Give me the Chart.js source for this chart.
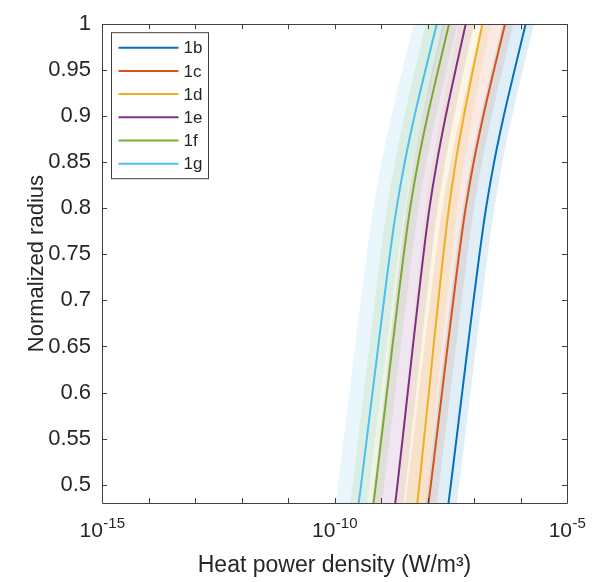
<!DOCTYPE html>
<html><head><meta charset="utf-8">
<script src="https://cdn.jsdelivr.net/npm/chart.js@4.4.1/dist/chart.umd.min.js"></script>
<style>html,body{margin:0;padding:0;background:#fff;}#wrap{width:595px;height:582px;position:relative;}canvas{display:block;}</style>
</head><body><div id="wrap"><canvas id="c" width="595" height="582"></canvas></div>
<script>
// ---------- data ----------
const radius = [0.48, 0.5, 0.55, 0.6, 0.65, 0.7, 0.75, 0.8, 0.85, 0.9, 0.95, 1.0];
const seriesNames = ['1b', '1c', '1d', '1e', '1f', '1g'];
const seriesColors = ['#0072BD', '#D95319', '#EDB120', '#7E2F8E', '#77AC30', '#4DBEEE'];

// heat power density (W/m^3): central curve, lower and upper edge of the shaded band
const q1b  = [2.83e-8, 3.18e-8, 4.21e-8, 5.56e-8, 7.36e-8, 9.76e-8, 1.31e-7, 1.81e-7, 2.70e-7, 4.35e-7, 7.43e-7, 1.29e-6];
const lo1b = [8.95e-9, 1.01e-8, 1.33e-8, 1.76e-8, 2.33e-8, 3.09e-8, 4.14e-8, 5.72e-8, 8.54e-8, 1.38e-7, 2.35e-7, 4.08e-7];
const hi1b = [4.28e-8, 4.81e-8, 6.37e-8, 8.42e-8, 1.11e-7, 1.48e-7, 1.98e-7, 2.74e-7, 4.09e-7, 6.58e-7, 1.12e-6, 1.95e-6];

const q1c  = [1.05e-8, 1.18e-8, 1.56e-8, 2.05e-8, 2.71e-8, 3.59e-8, 4.78e-8, 6.60e-8, 9.82e-8, 1.58e-7, 2.68e-7, 4.64e-7];
const lo1c = [3.32e-9, 3.73e-9, 4.93e-9, 6.48e-9, 8.57e-9, 1.14e-8, 1.51e-8, 2.09e-8, 3.11e-8, 5.00e-8, 8.47e-8, 1.47e-7];
const hi1c = [1.59e-8, 1.79e-8, 2.36e-8, 3.10e-8, 4.10e-8, 5.43e-8, 7.24e-8, 9.99e-8, 1.49e-7, 2.39e-7, 4.06e-7, 7.02e-7];

const q1d  = [6.03e-9, 6.67e-9, 8.43e-9, 1.07e-8, 1.35e-8, 1.71e-8, 2.19e-8, 2.88e-8, 4.03e-8, 6.03e-8, 9.46e-8, 1.51e-7];
const lo1d = [1.91e-9, 2.11e-9, 2.67e-9, 3.38e-9, 4.27e-9, 5.41e-9, 6.93e-9, 9.11e-9, 1.27e-8, 1.91e-8, 2.99e-8, 4.77e-8];
const hi1d = [9.13e-9, 1.01e-8, 1.28e-8, 1.62e-8, 2.04e-8, 2.59e-8, 3.32e-8, 4.36e-8, 6.10e-8, 9.13e-8, 1.43e-7, 2.29e-7];

const q1e  = [2.03e-9, 2.26e-9, 2.92e-9, 3.76e-9, 4.85e-9, 6.28e-9, 8.19e-9, 1.10e-8, 1.59e-8, 2.46e-8, 4.00e-8, 6.63e-8];
const lo1e = [6.42e-10, 7.15e-10, 9.23e-10, 1.19e-9, 1.53e-9, 1.99e-9, 2.59e-9, 3.48e-9, 5.03e-9, 7.78e-9, 1.26e-8, 2.10e-8];
const hi1e = [3.07e-9, 3.42e-9, 4.42e-9, 5.69e-9, 7.34e-9, 9.51e-9, 1.24e-8, 1.66e-8, 2.41e-8, 3.72e-8, 6.05e-8, 1.00e-7];

const q1f  = [6.90e-10, 7.74e-10, 1.02e-9, 1.34e-9, 1.76e-9, 2.32e-9, 3.08e-9, 4.23e-9, 6.26e-9, 1.00e-8, 1.69e-8, 2.90e-8];
const lo1f = [2.18e-10, 2.45e-10, 3.23e-10, 4.24e-10, 5.57e-10, 7.34e-10, 9.74e-10, 1.34e-9, 1.98e-9, 3.16e-9, 5.34e-9, 9.17e-9];
const hi1f = [1.04e-9, 1.17e-9, 1.54e-9, 2.03e-9, 2.66e-9, 3.51e-9, 4.66e-9, 6.40e-9, 9.48e-9, 1.51e-8, 2.56e-8, 4.39e-8];

const q1g  = [3.31e-10, 3.74e-10, 4.95e-10, 6.57e-10, 8.71e-10, 1.16e-9, 1.55e-9, 2.16e-9, 3.24e-9, 5.24e-9, 9.01e-9, 1.58e-8];
const lo1g = [1.05e-10, 1.18e-10, 1.57e-10, 2.08e-10, 2.75e-10, 3.67e-10, 4.90e-10, 6.83e-10, 1.02e-9, 1.66e-9, 2.85e-9, 5.00e-9];
const hi1g = [5.01e-10, 5.66e-10, 7.49e-10, 9.94e-10, 1.32e-9, 1.76e-9, 2.35e-9, 3.27e-9, 4.90e-9, 7.93e-9, 1.36e-8, 2.39e-8];

const yTicks = [0.5, 0.55, 0.6, 0.65, 0.7, 0.75, 0.8, 0.85, 0.9, 0.95, 1];
const yTickLabels = ['0.5', '0.55', '0.6', '0.65', '0.7', '0.75', '0.8', '0.85', '0.9', '0.95', '1'];
const xTickMarks = [1e-15, 1e-14, 1e-13, 1e-12, 1e-11, 1e-10, 1e-9, 1e-8, 1e-7, 1e-6, 1e-5];
const xLabelValues = [1e-15, 1e-10, 1e-5];
const xTickBase = '10';
const xTickExponents = ['-15', '-10', '-5'];
const xTitle = 'Heat power density (W/m\u00B3)';
const yTitle = 'Normalized radius';

// ---------- chart ----------
const centers = [q1b, q1c, q1d, q1e, q1f, q1g];
const lows = [lo1b, lo1c, lo1d, lo1e, lo1f, lo1g];
const highs = [hi1b, hi1c, hi1d, hi1e, hi1f, hi1g];

const FONT = '"Liberation Sans", Arial, Helvetica, sans-serif';
const TXT = '#262626';
const AX = '#404040';

function rgba(hex, a) {
  const n = parseInt(hex.slice(1), 16);
  return `rgba(${(n >> 16) & 255},${(n >> 8) & 255},${n & 255},${a})`;
}
function pts(vals) { return radius.map((r, k) => ({x: vals[k], y: r})); }

const datasets = [];
seriesNames.forEach((name, i) => {
  datasets.push({label: name + ' lower', data: pts(lows[i]), borderWidth: 0, borderColor: 'rgba(0,0,0,0)',
    pointRadius: 0, fill: false, cubicInterpolationMode: 'monotone'});
  datasets.push({label: name + ' upper', data: pts(highs[i]), borderWidth: 0, borderColor: 'rgba(0,0,0,0)',
    pointRadius: 0, fill: '-1', backgroundColor: rgba(seriesColors[i], 0.12), cubicInterpolationMode: 'monotone'});
});
seriesNames.forEach((name, i) => {
  datasets.push({label: name, isMain: true, data: pts(centers[i]), borderColor: seriesColors[i],
    backgroundColor: seriesColors[i], borderWidth: 2, pointRadius: 0, fill: false, cubicInterpolationMode: 'monotone'});
});

const boxPlugin = {
  id: 'matlabBox',
  afterDatasetsDraw(chart) {
    const {ctx, chartArea: a, scales: {x, y}} = chart;
    const L = 5;
    ctx.save();
    ctx.strokeStyle = AX;
    ctx.lineWidth = 1;
    ctx.beginPath();
    x.ticks.forEach(t => {
      const px = Math.round(x.getPixelForValue(t.value)) + 0.5;
      ctx.moveTo(px, a.bottom); ctx.lineTo(px, a.bottom - L);
      ctx.moveTo(px, a.top); ctx.lineTo(px, a.top + L);
    });
    y.ticks.forEach(t => {
      const py = Math.round(y.getPixelForValue(t.value)) + 0.5;
      ctx.moveTo(a.left, py); ctx.lineTo(a.left + L, py);
      ctx.moveTo(a.right, py); ctx.lineTo(a.right - L, py);
    });
    ctx.stroke();
    ctx.beginPath();
    ctx.rect(Math.round(a.left) + 0.5, Math.round(a.top) + 0.5, Math.round(a.right - a.left), Math.round(a.bottom - a.top));
    ctx.stroke();
    ctx.restore();
  }
};

// x tick labels as 10 with a raised exponent, placed through the x scale
const powerLabelPlugin = {
  id: 'powerLabels',
  afterDraw(chart) {
    const {ctx, scales: {x}} = chart;
    ctx.save();
    ctx.fillStyle = TXT;
    ctx.textBaseline = 'alphabetic';
    ctx.textAlign = 'left';
    xLabelValues.forEach((v, i) => {
      const px = x.getPixelForValue(v);
      ctx.font = '21px ' + FONT;
      const wb = ctx.measureText(xTickBase).width;
      ctx.font = '15px ' + FONT;
      const we = ctx.measureText(xTickExponents[i]).width;
      const x0 = px - (wb + we) / 2;
      ctx.font = '21px ' + FONT;
      ctx.fillText(xTickBase, x0, x.top + 34);
      ctx.font = '15px ' + FONT;
      ctx.fillText(xTickExponents[i], x0 + wb + 0.5, x.top + 25);
    });
    ctx.restore();
  }
};

const legendPlugin = {
  id: 'matlabLegend',
  afterDraw(chart) {
    const {ctx, chartArea: a} = chart;
    const items = chart.data.datasets.filter(d => d.isMain);
    const bx = a.left + 9.5, by = a.top + 8.5, bw = 97, bh = 146;
    ctx.save();
    ctx.fillStyle = '#fff';
    ctx.fillRect(bx, by, bw, bh);
    ctx.strokeStyle = AX;
    ctx.lineWidth = 1;
    ctx.strokeRect(bx, by, bw, bh);
    ctx.font = '17px ' + FONT;
    ctx.textBaseline = 'middle';
    ctx.textAlign = 'left';
    items.forEach((d, i) => {
      const yy = by + 15 + i * 23.2;
      ctx.strokeStyle = d.borderColor;
      ctx.lineWidth = 2;
      ctx.beginPath();
      ctx.moveTo(bx + 7, yy); ctx.lineTo(bx + 67, yy);
      ctx.stroke();
      ctx.fillStyle = TXT;
      ctx.fillText(d.label, bx + 72, yy + 1);
    });
    ctx.restore();
  }
};

new Chart(document.getElementById('c'), {
  type: 'line',
  data: {datasets},
  plugins: [boxPlugin, powerLabelPlugin, legendPlugin],
  options: {
    responsive: false,
    animation: false,
    indexAxis: 'y',
    layout: {padding: {top: 18, right: 28, left: 0, bottom: 0}},
    plugins: {
      legend: {display: false},
      tooltip: {enabled: false},
      filler: {drawTime: 'beforeDatasetsDraw'}
    },
    scales: {
      x: {
        type: 'logarithmic', position: 'bottom', min: 1e-15, max: 1e-5,
        afterBuildTicks(s) { s.ticks = xTickMarks.map(v => ({value: v})); },
        afterFit(s) { s.height = 79; },
        grid: {display: false, drawTicks: false},
        border: {display: false},
        ticks: {display: false, autoSkip: false, maxRotation: 0},
        title: {display: true, text: xTitle, color: TXT, font: {family: FONT, size: 23}, padding: {top: 0, bottom: 3}}
      },
      y: {
        type: 'linear', position: 'left', min: 0.48, max: 1,
        afterBuildTicks(s) { s.ticks = yTicks.map(v => ({value: v})); },
        afterFit(s) { s.width = 102; },
        grid: {display: false, drawTicks: false},
        border: {display: false},
        ticks: {
          autoSkip: false, padding: 11, color: TXT,
          font: {family: FONT, size: 22},
          callback(v) {
            const k = yTicks.findIndex(t => Math.abs(t - v) < 1e-9);
            return k >= 0 ? yTickLabels[k] : '';
          }
        },
        title: {display: true, text: yTitle, color: TXT, font: {family: FONT, size: 22}, padding: {top: 24, bottom: 0}}
      }
    }
  }
});
</script>
</body></html>
